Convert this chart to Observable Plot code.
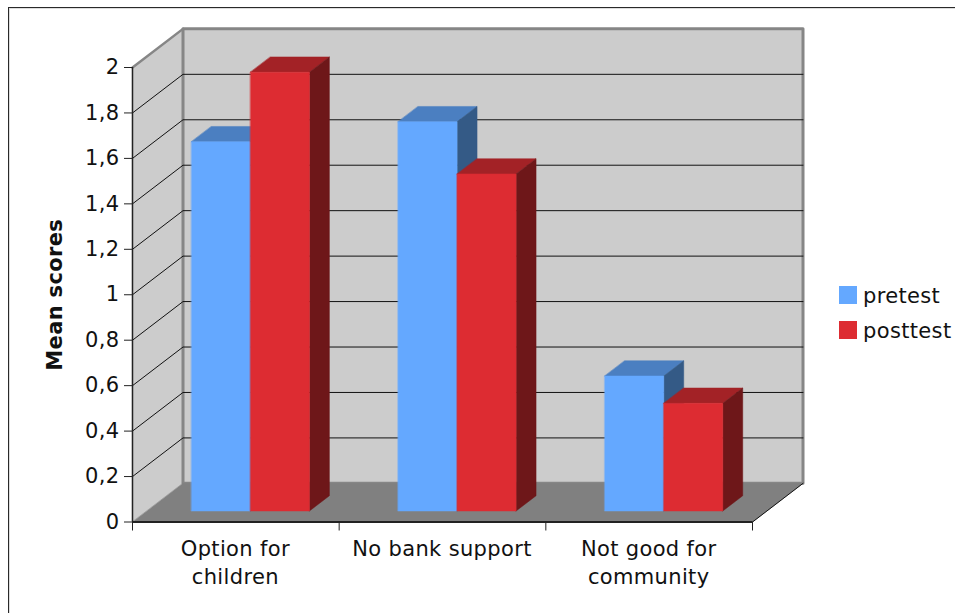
<!DOCTYPE html>
<html>
<head>
<meta charset="utf-8">
<script src="https://cdn.jsdelivr.net/npm/d3@7"></script>
<script src="https://cdn.jsdelivr.net/npm/@observablehq/plot@0.6"></script>
<style>
  html, body { margin: 0; background: #fff; width: 955px; height: 613px; overflow: hidden; }
  #chart { position: relative; width: 955px; height: 613px; font-family: "DejaVu Sans", sans-serif; color: #111; }
  #chart svg { position: absolute; left: 0; top: 0; display: block; }
  #border { position: absolute; left: 8px; top: 7px; right: 0; bottom: 0; border-left: 1px solid #2a2a2a; border-top: 1px solid #2a2a2a; box-shadow: inset 1px 1px 0 #ddd; }
  .key { position: absolute; left: 839px; font-size: 21px; letter-spacing: 0.35px; line-height: 20px; white-space: nowrap; }
  .key i { display: inline-block; width: 18px; height: 18px; margin-right: 6px; vertical-align: top; }
</style>
</head>
<body>
<div id="chart"><div id="border"></div></div>
<script>
const categories = ["Option for\nchildren", "No bank support", "Not good for\ncommunity"];
const pretest = [1.625, 1.713, 0.594];
const posttest = [1.931, 1.483, 0.474];
const yTicks = [0, 0.2, 0.4, 0.6, 0.8, 1, 1.2, 1.4, 1.6, 1.8, 2];
const seriesNames = ["pretest", "posttest"];

// Shades per series: front, top and side faces of each bar
const shades = [
  { front: "#64a8ff", top: "#4b7fc1", side: "#345a86" },
  { front: "#dd2c32", top: "#a32226", side: "#6e1719" }
];

// Oblique projection: depth d (0 = front of the box, 1 = back wall)
// shifts a point right and up, in units of the two scales.
const depthX = 0.2444;
const depthY = 0.17;
const project = (c, v, d) => ({ x: c + d * depthX, y: v + d * depthY });

// Bar placement inside a category band, in category units
const barInset = 0.2155;
const barWidth = 0.2855;
const barDepthStart = 0.285;
const barDepth = 0.395;

const polygon = (id, color, corners) =>
  corners.map(([c, v, d]) => ({ id, color, ...project(c, v, d) }));

const barFaces = [];
categories.forEach((_, i) => {
  [pretest, posttest].forEach((series, s) => {
    const a = i + barInset + s * barWidth;
    const b = a + barWidth;
    const v = series[i];
    const d0 = barDepthStart;
    const d1 = barDepthStart + barDepth;
    const key = `${i}-${s}`;
    barFaces.push(
      ...polygon(`top-${key}`, shades[s].top, [[a, v, d0], [b, v, d0], [b, v, d1], [a, v, d1]]),
      ...polygon(`side-${key}`, shades[s].side, [[b, 0, d0], [b, 0, d1], [b, v, d1], [b, v, d0]]),
      ...polygon(`front-${key}`, shades[s].front, [[a, 0, d0], [b, 0, d0], [b, v, d0], [a, v, d0]])
    );
  });
});

const n = categories.length;
const backWall = polygon("back", "#cccccc", [[0, 0, 1], [n, 0, 1], [n, 2, 1], [0, 2, 1]]);
const sideWall = polygon("left", "#cccccc", [[0, 0, 0], [0, 0, 1], [0, 2, 1], [0, 2, 0]]);
const floor = polygon("floor", "#808080", [[0, 0, 0], [n, 0, 0], [n, 0, 1], [0, 0, 1]]);

const gridValues = yTicks.filter(v => v > 0 && v < 2);
const gridLines = gridValues.flatMap(v =>
  polygon(`grid-${v}`, "#111", [[0, v, 0], [0, v, 1], [n, v, 1]])
);
const wallEdge = polygon("edge", "#868686", [[0, 2, 0], [0, 2, 1]]);
const floorEdge = polygon("floor-edge", "#111", [[n, 0, 0], [n, 0, 1]]);
const faceOptions = {
  x: "x", y: "y", z: "id",
  fill: { value: "color", scale: null },
  stroke: { value: "color", scale: null },
  strokeWidth: 0.5,
  curve: "linear-closed"
};
const edgeOptions = { x: "x", y: "y", z: "id" };

const chart = Plot.plot({
  width: 955,
  height: 613,
  marginLeft: 132,
  marginRight: 203,
  marginTop: 67,
  marginBottom: 91.5,
  x: { domain: [0, n], axis: null },
  y: { domain: [0, 2], axis: null },
  style: { fontFamily: "'DejaVu Sans', sans-serif", fontSize: "21px", letterSpacing: "0.35px", color: "#111", background: "transparent", overflow: "visible" },
  marks: [
    Plot.line([...sideWall, ...backWall], faceOptions),
    Plot.line(backWall, { ...edgeOptions, stroke: "#868686", strokeWidth: 3, curve: "linear-closed" }),
    Plot.line(gridLines, { ...edgeOptions, stroke: "#111", strokeWidth: 1 }),
    Plot.line(wallEdge, { ...edgeOptions, stroke: "#868686", strokeWidth: 2.5 }),
    Plot.line(floor, faceOptions),
    Plot.line(floorEdge, { ...edgeOptions, stroke: "#111", strokeWidth: 1 }),
    Plot.line(barFaces, faceOptions),
    Plot.ruleX([0], { y1: 0, y2: 2, stroke: "#222", strokeWidth: 1.5 }),
    Plot.ruleY([0], { x1: 0, x2: n, stroke: "#222", strokeWidth: 2 }),
    Plot.axisY({
      ticks: yTicks,
      tickSize: 8,
      tickPadding: 5,
      stroke: "#222",
      label: null,
      tickFormat: d => String(d).replace(".", ",")
    }),
    Plot.axisX({ ticks: d3.range(n + 1), tickSize: 9, tickFormat: () => "", label: null, stroke: "#222" }),
    Plot.text(categories, {
      x: (_, i) => i + 0.5,
      y: () => 0,
      dx: -0.5,
      dy: 14,
      lineAnchor: "top",
      lineHeight: 1.33,
      fontSize: 21,
      fill: "#111"
    }),
    Plot.text(["Mean scores"], {
      frameAnchor: "left",
      textAnchor: "middle",
      dx: -77,
      rotate: -90,
      fontSize: 21,
      fontWeight: "bold",
      fill: "#111"
    })
  ]
});

const root = document.getElementById("chart");
root.appendChild(chart);

// Series key beside the plot
seriesNames.forEach((name, s) => {
  const row = document.createElement("div");
  row.className = "key";
  row.style.top = `${286 + s * 35}px`;
  const swatch = document.createElement("i");
  swatch.style.background = shades[s].front;
  row.append(swatch, name);
  root.appendChild(row);
});
</script>
</body>
</html>
